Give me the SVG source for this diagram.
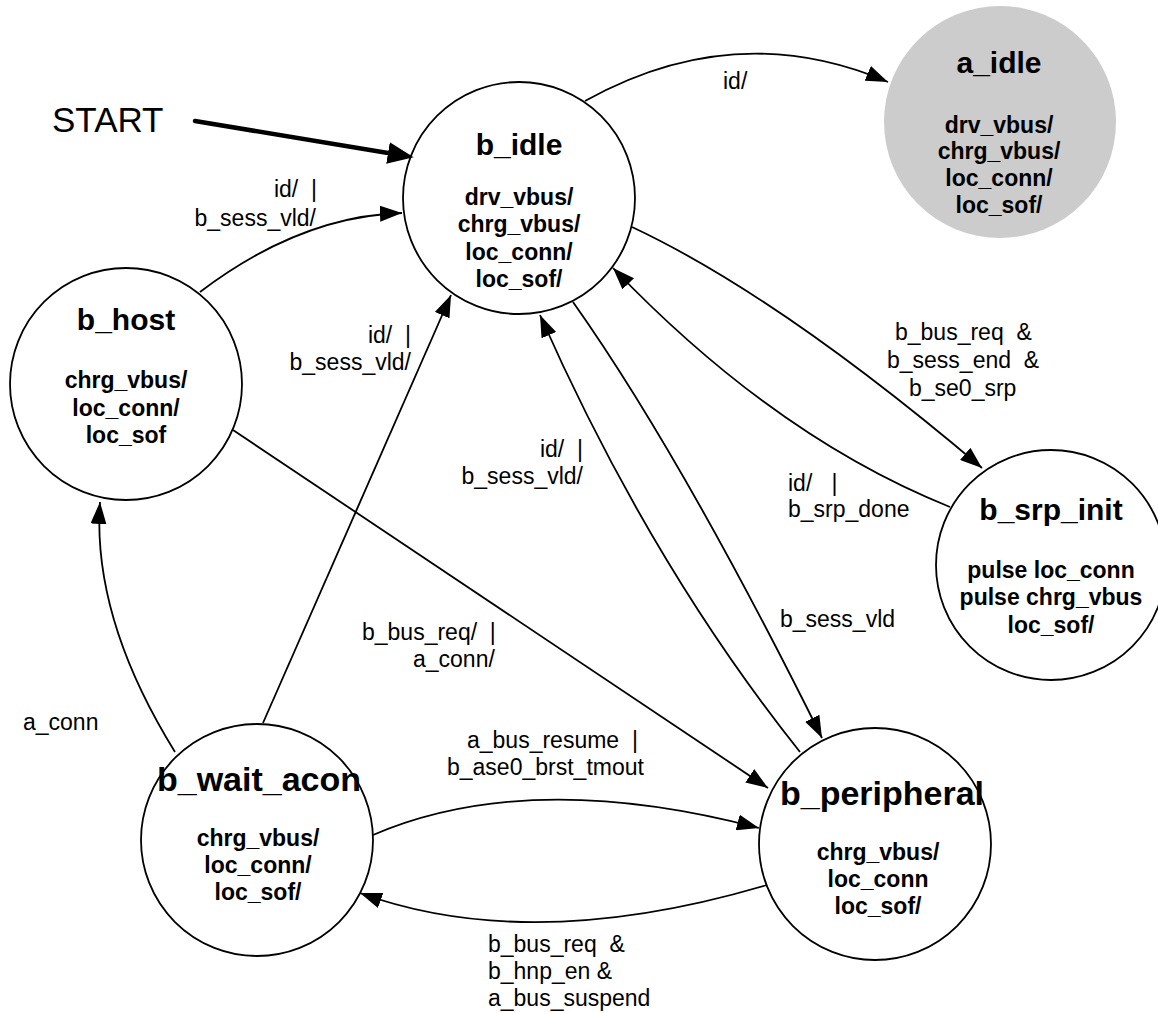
<svg xmlns="http://www.w3.org/2000/svg" width="1158" height="1013" viewBox="0 0 1158 1013">
<style>
.node{fill:#fff;stroke:#000;stroke-width:1.8}
.gray{fill:#cccccc;stroke:none}
.title{font-family:"Liberation Sans",Arial,sans-serif;font-weight:bold;font-size:30px;text-anchor:middle}
.big{font-size:34px}
.body{font-family:"Liberation Sans",Arial,sans-serif;font-weight:bold;font-size:23px;text-anchor:middle}
.lbl{font-family:"Liberation Sans",Arial,sans-serif;font-size:23px;white-space:pre}
.end{text-anchor:end}
.edge{fill:none;stroke:#000;stroke-width:1.8;marker-end:url(#arr)}
.start{fill:none;stroke:#000;stroke-width:4.5;stroke-linecap:round;marker-end:url(#bigarr)}
</style>
<defs>
<marker id="arr" markerUnits="userSpaceOnUse" markerWidth="22" markerHeight="16" viewBox="0 0 22 16" refX="22" refY="8" orient="auto"><path d="M0,0 L22,8 L0,16 z" fill="#000"/></marker>
<marker id="bigarr" markerUnits="userSpaceOnUse" markerWidth="26" markerHeight="22" viewBox="0 0 26 22" refX="0" refY="11" orient="auto"><path d="M0,0 L26,11 L0,22 z" fill="#000"/></marker>
</defs>
<rect width="1158" height="1013" fill="#fff"/>

<g id="start">
<text class="lbl" x="52" y="132" style="font-size:35px">START</text>
</g>

<g id="b_idle">
<circle class="node" cx="519" cy="198" r="116"/>
<text class="title" x="519" y="155">b_idle</text>
<text class="body" x="519" y="205">drv_vbus/</text>
<text class="body" x="519" y="232">chrg_vbus/</text>
<text class="body" x="519" y="260">loc_conn/</text>
<text class="body" x="519" y="287">loc_sof/</text>
</g>

<g id="a_idle">
<circle class="gray" cx="1000" cy="122" r="116"/>
<text class="title" x="999" y="73">a_idle</text>
<text class="body" x="999" y="133">drv_vbus/</text>
<text class="body" x="999" y="159">chrg_vbus/</text>
<text class="body" x="999" y="186">loc_conn/</text>
<text class="body" x="999" y="213">loc_sof/</text>
</g>

<g id="b_host">
<circle class="node" cx="126" cy="384" r="116"/>
<text class="title" x="126" y="330">b_host</text>
<text class="body" x="126" y="388">chrg_vbus/</text>
<text class="body" x="126" y="416">loc_conn/</text>
<text class="body" x="126" y="443">loc_sof</text>
</g>

<g id="b_srp_init">
<circle class="node" cx="1051" cy="565" r="115"/>
<text class="title" x="1051" y="520">b_srp_init</text>
<text class="body" x="1051" y="578">pulse loc_conn</text>
<text class="body" x="1051" y="605">pulse chrg_vbus</text>
<text class="body" x="1051" y="633">loc_sof/</text>
</g>

<g id="b_wait_acon">
<circle class="node" cx="257" cy="840" r="116"/>
<text class="title big" x="259" y="791">b_wait_acon</text>
<text class="body" x="258" y="846">chrg_vbus/</text>
<text class="body" x="258" y="873">loc_conn/</text>
<text class="body" x="258" y="900">loc_sof/</text>
</g>

<g id="b_peripheral">
<circle class="node" cx="875" cy="844" r="116"/>
<text class="title big" x="882" y="805">b_peripheral</text>
<text class="body" x="878" y="860">chrg_vbus/</text>
<text class="body" x="878" y="887">loc_conn</text>
<text class="body" x="878" y="914">loc_sof/</text>
</g>

<g id="connectors">
<path class="start" d="M195,121 L388,153"/>
<path class="edge" d="M585,101 Q736,17 888,82"/>
<path class="edge" d="M200,292 Q300,216 402,213"/>
<path class="edge" d="M632,227 Q779,296 982,468"/>
<path class="edge" d="M950,507 Q775,437 613,268"/>
<path class="edge" d="M573,302 Q682,456 822,738"/>
<path class="edge" d="M800,752 Q650,564 540,315"/>
<path class="edge" d="M263,723 L451,295"/>
<path class="edge" d="M233,430 L768,788"/>
<path class="edge" d="M175,752 Q92,618 100,502"/>
<path class="edge" d="M373,835 Q529,768 759,828"/>
<path class="edge" d="M767,885 Q531,955 360,893"/>
</g>

<g id="labels">
<text class="lbl" x="723" y="89">id/</text>
<text class="lbl end" x="317" y="197">id/  |</text>
<text class="lbl end" x="316" y="226">b_sess_vld/</text>
<text class="lbl end" x="411" y="343">id/  |</text>
<text class="lbl end" x="411" y="370">b_sess_vld/</text>
<text class="lbl end" x="583" y="457">id/  |</text>
<text class="lbl end" x="583" y="484">b_sess_vld/</text>
<text class="lbl" x="895" y="340">b_bus_req  &amp;</text>
<text class="lbl" x="887" y="368">b_sess_end  &amp;</text>
<text class="lbl" x="909" y="396">b_se0_srp</text>
<text class="lbl" x="788" y="491">id/   |</text>
<text class="lbl" x="788" y="517">b_srp_done</text>
<text class="lbl" x="780" y="627">b_sess_vld</text>
<text class="lbl" x="362" y="640">b_bus_req/  |</text>
<text class="lbl" x="413" y="667">a_conn/</text>
<text class="lbl" x="23" y="730">a_conn</text>
<text class="lbl" x="467" y="748">a_bus_resume  |</text>
<text class="lbl" x="447" y="775">b_ase0_brst_tmout</text>
<text class="lbl" x="488" y="952">b_bus_req  &amp;</text>
<text class="lbl" x="488" y="979">b_hnp_en &amp;</text>
<text class="lbl" x="488" y="1006">a_bus_suspend</text>
</g>
</svg>
